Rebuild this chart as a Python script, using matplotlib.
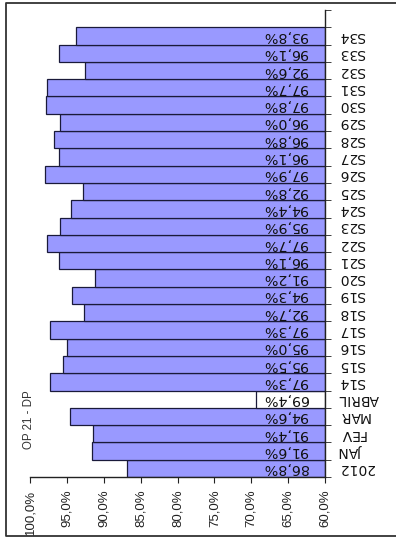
import matplotlib
matplotlib.use("Agg")
import matplotlib.pyplot as plt
from matplotlib.lines import Line2D
import numpy as np

# categories bottom -> top
categories = ["2012", "JAN", "FEV", "MAR", "ABRIL", "S14", "S15", "S16", "S17", "S18",
              "S19", "S20", "S21", "S22", "S23", "S24", "S25", "S26", "S27", "S28",
              "S29", "S30", "S31", "S32", "S33", "S34"]
values = [86.8, 91.6, 91.4, 94.6, 69.4, 97.3, 95.5, 95.0, 97.3, 92.7,
          94.3, 91.2, 96.1, 97.7, 95.9, 94.4, 92.8, 97.9, 96.1, 96.8,
          96.0, 97.8, 97.7, 92.6, 96.1, 93.8]
value_ticks = [100, 95, 90, 85, 80, 75, 70, 65, 60]
title = "OP 21 - DP"

def pct(v):
    return f"{v:.1f}%".replace(".", ",")

fig = plt.figure(figsize=(3.96, 5.40), dpi=100)
ax = fig.add_axes([30 / 396, 1 - 477 / 540, 295 / 396, 467 / 540])

y = np.arange(len(categories))
colors = ["white" if c == "ABRIL" else "#9999FF" for c in categories]
ax.barh(y, [v - 60 for v in values], left=60, height=1.0,
        color=colors, edgecolor="#1a1a3a", linewidth=0.9)

for yi, v in zip(y, values):
    ax.text(62.3, yi, pct(v), rotation=180, ha="right", va="center",
            fontsize=10.3, family="DejaVu Sans", color="#111111")

ax.set_xlim(100, 60)
ax.set_ylim(-0.5, 26.5)

for s in ["left", "top"]:
    ax.spines[s].set_visible(False)
for s in ["right", "bottom"]:
    ax.spines[s].set_color("#222222")
    ax.spines[s].set_linewidth(1.0)

ax.set_xticks(value_ticks)
ax.set_xticklabels([pct(t) for t in value_ticks],
                   rotation=90, fontsize=9.5, family="Liberation Sans", color="#222222")
ax.tick_params(axis="x", direction="out", length=4, pad=5, color="#222222")

ax.yaxis.tick_right()
ax.set_yticks(y)
ax.set_yticklabels(categories, rotation=180, ha="left", va="center",
                   fontsize=10, family="DejaVu Sans", color="#111111")
ax.set_yticks(np.arange(-0.5, 27, 1.0), minor=True)
ax.tick_params(axis="y", which="major", length=0, pad=10)
ax.tick_params(axis="y", which="minor", direction="out", length=4, color="#222222")

fig.text(29 / 396, 1 - 420 / 540, title, rotation=90, ha="center", va="center",
         fontsize=8.3, family="Liberation Sans", color="#333333")

# outer chart border (right side falls off the picture)
x0, x1 = 6 / 396, 1.05
y0, y1 = 1 - 536 / 540, 1 - 3 / 540
fig.add_artist(Line2D([x1, x0, x0, x1], [y1, y1, y0, y0], transform=fig.transFigure,
                      color="#333333", linewidth=1.3))

fig.savefig("out.png", dpi=100)
